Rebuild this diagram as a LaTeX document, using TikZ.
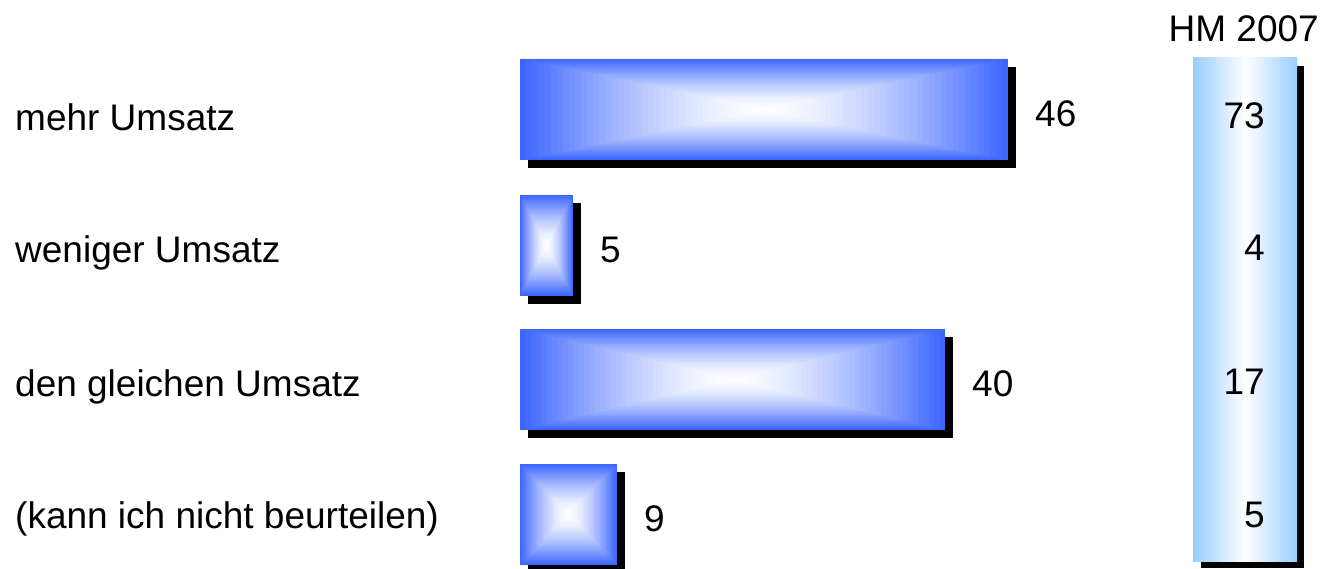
\documentclass[tikz,border=0pt]{standalone}
\usepackage{fontspec}
\setmainfont{Liberation Sans}
\usetikzlibrary{positioning,calc}

\definecolor{barblue}{RGB}{61,102,255}
\definecolor{hmblue}{RGB}{153,204,255}

% bar with a rectangular glow: name, x0, y0, x1, y1
\newcommand{\glowbar}[5]{%
  \fill[black] (#2+8,#3+8) rectangle (#4+8,#5+8);
  \foreach \k in {0,...,40}{
    \pgfmathsetmacro{\gfrac}{\k/40}
    \pgfmathsetmacro{\amt}{100*(1-\gfrac)^1.5}
    \pgfmathsetmacro{\xa}{#2+\gfrac*(#4-#2)/2}
    \pgfmathsetmacro{\ya}{#3+\gfrac*(#5-#3)/2}
    \pgfmathsetmacro{\xb}{#4-\gfrac*(#4-#2)/2}
    \pgfmathsetmacro{\yb}{#5-\gfrac*(#5-#3)/2}
    \fill[barblue!\amt!white] (\xa,\ya) rectangle (\xb,\yb);
  }
  \coordinate (#1) at (#4,{(#3+#5)/2});
}

\begin{document}
\begin{tikzpicture}[x=1pt,y=-1pt,font=\fontsize{37}{44}\selectfont,
    lbl/.style={anchor=base west,inner sep=0pt},
    num/.style={inner sep=0pt,yshift=-4pt},
    hmnum/.style={anchor=base east,inner sep=0pt}]
    \useasboundingbox (0,0) rectangle (1323,569);

    % answers
    \node[lbl] (l1) at (15,131) {mehr Umsatz};
    \node[lbl] (l2) at (15,263) {weniger Umsatz};
    \node[lbl] (l3) at (15,396) {den gleichen Umsatz};
    \node[lbl] (l4) at (15,528) {(kann ich nicht beurteilen)};

    % bars
    \glowbar{b1}{520}{59}{1008}{160}
    \glowbar{b2}{520}{195}{573}{296}
    \glowbar{b3}{520}{329}{945}{430}
    \glowbar{b4}{520}{464}{617}{565}

    \node[num] (v1) [right=27pt of b1] {46};
    \node[num] (v2) [right=27pt of b2] {5};
    \node[num] (v3) [right=27pt of b3] {40};
    \node[num] (v4) [right=27pt of b4] {9};

    % comparison column
    \fill[black] (1201,66) rectangle (1304,568);
    \shade[left color=hmblue,right color=hmblue,middle color=white]
        (1193,58) rectangle (1297,561);
    \node[hmnum] (hm) at (1319,42) {HM 2007};
    \node[hmnum] (h1) at (1265,129) {73};
    \node[hmnum] (h2) at (1265,261) {4};
    \node[hmnum] (h3) at (1265,394) {17};
    \node[hmnum] (h4) at (1265,527) {5};
\end{tikzpicture}
\end{document}
